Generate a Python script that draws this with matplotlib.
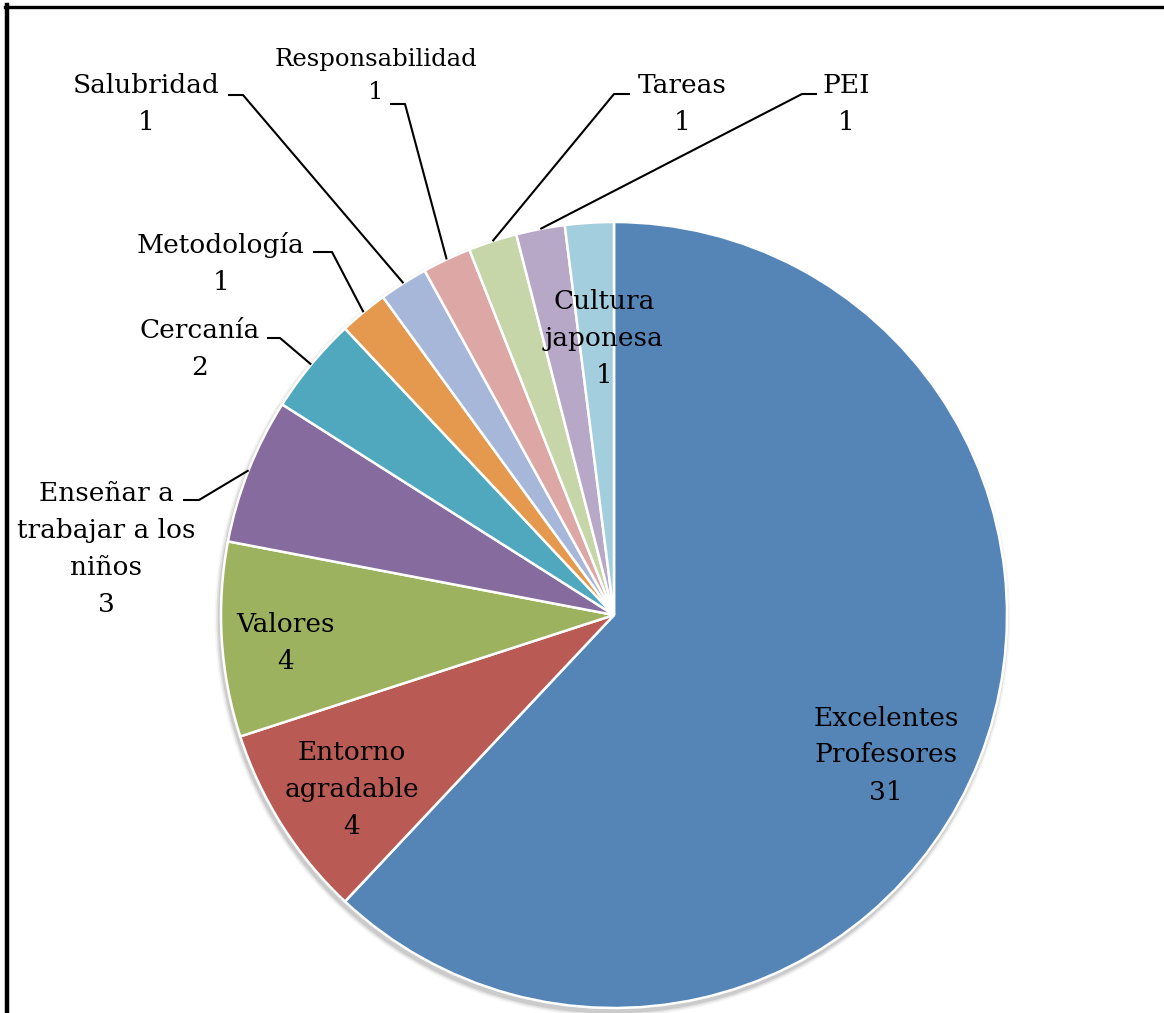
import matplotlib
matplotlib.use('Agg')
import matplotlib.pyplot as plt
import numpy as np
from matplotlib.lines import Line2D
from matplotlib.patches import Circle

labels = ['Excelentes\nProfesores', 'Entorno\nagradable', 'Valores',
          'Enseñar a\ntrabajar a los\nniños', 'Cercanía', 'Metodología',
          'Salubridad', 'Responsabilidad', 'Tareas', 'PEI', 'Cultura\njaponesa']
values = [31, 4, 4, 3, 2, 1, 1, 1, 1, 1, 1]
colors = ['#5585B7', '#B95B54', '#9CB25F', '#866C9E', '#50A8BE', '#E4994E',
          '#A6B7D9', '#DDA7A5', '#C6D6A9', '#B8A8C8', '#A3CEDD']

# layout in pixels (figure is 1164 x 1013, pie centre 614,615, radius 393)
W, H = 1164, 1013
CX, CY, R = 614, 615, 393
text_pos = {
    'Excelentes\nProfesores': (886, 755),
    'Entorno\nagradable': (352, 790),
    'Valores': (286, 643),
    'Enseñar a\ntrabajar a los\nniños': (106, 549),
    'Cercanía': (200, 349),
    'Metodología': (221, 263),
    'Salubridad': (146, 104),
    'Responsabilidad': (376, 76),
    'Tareas': (682, 104),
    'PEI': (846, 104),
    'Cultura\njaponesa': (604, 338),
}
# leader lines: (text-side start, elbow)
leaders = {
    'Enseñar a\ntrabajar a los\nniños': ((183, 500), (199, 500)),
    'Cercanía': ((267, 338), (280, 338)),
    'Metodología': ((313, 252), (332, 252)),
    'Salubridad': ((228, 95), (243, 95)),
    'Responsabilidad': ((390, 104), (405, 104)),
    'Tareas': ((630, 94), (614, 94)),
    'PEI': ((817, 94), (802, 94)),
}


def px(p):
    return ((p[0] - CX) / R, (CY - p[1]) / R)


fig = plt.figure(figsize=(W / 100, H / 100), dpi=100)
ax = fig.add_axes([0, 0, 1, 1])

# soft shadow
for i, a in enumerate([0.10, 0.07, 0.04]):
    ax.add_patch(Circle((-0.004, -0.010), 1.0 + 0.004 * (i + 1), color='black',
                        alpha=a, lw=0, zorder=0))

wedges, _ = ax.pie(values, colors=colors, startangle=90, counterclock=False,
                   radius=1, center=(0, 0), frame=True,
                   wedgeprops=dict(edgecolor='white', linewidth=1.8))
ax.set_xlim(-CX / R, (W - CX) / R)
ax.set_ylim(-(H - CY) / R, CY / R)
ax.set_aspect('equal')
ax.axis('off')

font = 'DejaVu Serif'
for w, lab, v in zip(wedges, labels, values):
    x, y = px(text_pos[lab])
    fs = 19 if lab != 'Responsabilidad' else 17.5
    ax.text(x, y, f'{lab}\n{v}', ha='center', va='center', fontsize=fs,
            family=font, linespacing=1.6, color='black', zorder=5)
    if lab in leaders:
        mid = np.deg2rad((w.theta1 + w.theta2) / 2)
        end = (np.cos(mid), np.sin(mid))
        s, e = leaders[lab]
        s, e = px(s), px(e)
        ax.plot([s[0], e[0], end[0]], [s[1], e[1], end[1]], color='black',
                lw=1.5, zorder=4, solid_capstyle='butt')

# frame lines of the original picture
fig.add_artist(Line2D([7 / W, 7 / W], [0, 1 - 5 / H], color='black', lw=3.2,
                      transform=fig.transFigure))
fig.add_artist(Line2D([5 / W, 1], [1 - 7 / H, 1 - 7 / H], color='black', lw=2.4,
                      transform=fig.transFigure))

plt.savefig('out.png', dpi=100)
plt.close()
